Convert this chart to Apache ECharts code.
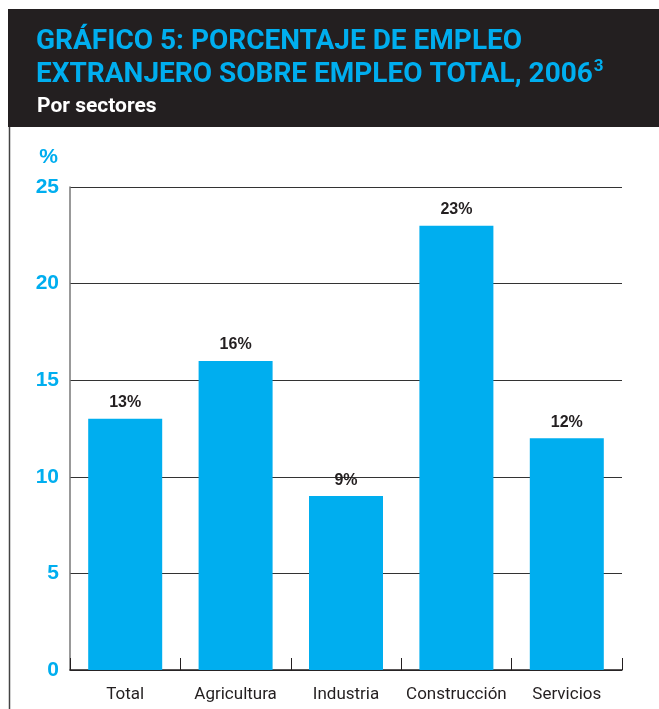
<!DOCTYPE html>
<html>
<head>
<meta charset="utf-8">
<script src="https://cdn.jsdelivr.net/npm/echarts@6/dist/echarts.min.js"></script>
<style>
  html, body { margin: 0; padding: 0; background: #ffffff; }
  #chart { width: 659px; height: 709px; }
</style>
</head>
<body>
<div id="chart"></div>
<script>
// Foreign employment as a share of total employment, by sector (2006)
const categories = ['Total', 'Agricultura', 'Industria', 'Construcción', 'Servicios'];
const shareValues = [13, 16, 9, 23, 12];
const yTicks = { min: 0, max: 25, interval: 5 };

const BLUE = '#00aeef';
const INK = '#231f20';
const NARROW = 'Roboto, "DejaVu Sans Condensed", sans-serif';
const WIDE = '"Liberation Sans", Arial, sans-serif';

const chart = echarts.init(document.getElementById('chart'), null, { renderer: 'canvas' });

chart.setOption({
  backgroundColor: '#ffffff',
  animation: false,
  graphic: [
    {
      type: 'rect',
      z: -1,
      shape: { x: 8, y: 9, width: 660, height: 118 },
      style: { fill: INK }
    },
    {
      type: 'line',
      shape: { x1: 9.5, y1: 127, x2: 9.5, y2: 709 },
      style: { stroke: '#444', lineWidth: 1.5 }
    }
  ],
  title: [
    {
      text: '{t|GRÁFICO 5: PORCENTAJE DE EMPLEO}\n{t|EXTRANJERO SOBRE EMPLEO TOTAL, 2006}{s|3}',
      left: 31,
      top: 20,
      textStyle: {
        rich: {
          t: { color: BLUE, fontFamily: NARROW, fontWeight: 'bold', fontSize: 28, lineHeight: 33 },
          s: { color: BLUE, fontFamily: NARROW, fontWeight: 'bold', fontSize: 17, verticalAlign: 'top', lineHeight: 33, padding: [0, 0, 13, 1] }
        }
      }
    },
    {
      text: 'Por sectores',
      left: 32,
      top: 91,
      textStyle: { color: '#ffffff', fontFamily: NARROW, fontWeight: 'bold', fontSize: 21 }
    }
  ],
  grid: { left: 70, right: 37, top: 187, bottom: 39, containLabel: false },
  xAxis: {
    type: 'category',
    data: categories,
    boundaryGap: true,
    axisLine: { show: true, lineStyle: { color: INK, width: 1.5 } },
    axisTick: { show: true, inside: true, length: 12, lineStyle: { color: INK, width: 1 } },
    axisLabel: { color: INK, fontFamily: NARROW, fontSize: 17, margin: 16, interval: 0 },
    splitLine: { show: false }
  },
  yAxis: {
    type: 'value',
    min: yTicks.min,
    max: yTicks.max,
    interval: yTicks.interval,
    name: '%',
    nameLocation: 'end',
    nameGap: 19,
    nameTextStyle: { color: BLUE, fontFamily: WIDE, fontWeight: 'bold', fontSize: 21, align: 'right', padding: [0, 12, 0, 0] },
    axisLine: { show: true, lineStyle: { color: '#777', width: 1.5 } },
    axisTick: { show: false },
    axisLabel: { color: BLUE, fontFamily: WIDE, fontWeight: 'bold', fontSize: 21, margin: 11 },
    splitLine: { show: true, lineStyle: { color: '#333', width: 1 } }
  },
  series: [
    {
      type: 'bar',
      data: shareValues,
      barWidth: 74,
      itemStyle: { color: BLUE },
      label: {
        show: true,
        position: 'top',
        distance: 8,
        color: INK,
        fontFamily: WIDE,
        fontWeight: 'bold',
        fontSize: 16,
        formatter: p => p.value + '%'
      }
    }
  ]
});
</script>
</body>
</html>
